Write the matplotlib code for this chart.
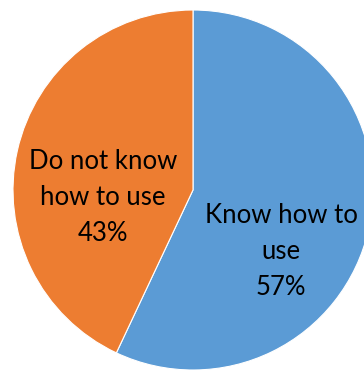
import matplotlib.pyplot as plt

labels = ["Know how to\nuse", "Do not know\nhow to use"]
shares = [57, 43]
colors = ["#5B9BD5", "#ED7D31"]

# where each label block sits, in pie units
label_pos = [(0.49, -0.34), (-0.5, -0.04)]

fig = plt.figure(figsize=(3.64, 3.70), dpi=100)
ax = fig.add_axes([13 / 364, 0, 360 / 364, 360 / 370])

ax.pie(shares, colors=colors, startangle=90, counterclock=False, radius=1,
       wedgeprops={"edgecolor": "white", "linewidth": 0.8})

for lab, val, (x, y) in zip(labels, shares, label_pos):
    ax.text(x, y, f"{lab}\n{val}%", ha="center", va="center",
            fontsize=18.5, family="Lato", linespacing=1.55, color="black")

ax.set_xlim(-1, 1)
ax.set_ylim(-1, 1)
ax.set_aspect("equal")
ax.axis("off")

fig.savefig("out.png", dpi=100)
